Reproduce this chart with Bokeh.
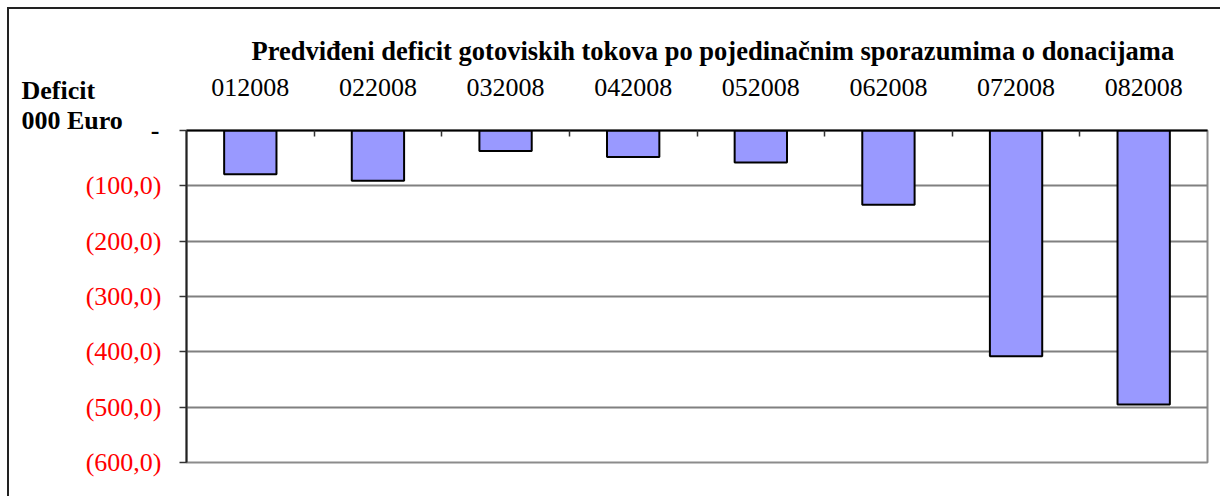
from bokeh.plotting import figure
from bokeh.models import (LinearAxis, FixedTicker, Range1d, Label, ColumnDataSource)
from bokeh.embed import file_html
from bokeh.resources import INLINE

categories = ["012008", "022008", "032008", "042008", "052008", "062008", "072008", "082008"]
deficit = [-79, -91, -37, -48, -58, -134, -408, -495]
y_ticks = [0, -100, -200, -300, -400, -500, -600]
y_labels = ["", "(100,0)", "(200,0)", "(300,0)", "(400,0)", "(500,0)", "(600,0)"]
title_text = "Predviđeni deficit gotoviskih tokova po pojedinačnim sporazumima o donacijama"

FONT = "Liberation Serif"
W, H = 1213, 489

xs = [i + 0.5 for i in range(len(categories))]
src = ColumnDataSource(dict(x=xs, top=[0] * len(deficit), bottom=deficit))

p = figure(width=W, height=H, output_backend="svg", toolbar_location=None,
           x_range=Range1d(0, len(categories)), y_range=Range1d(-600, 0),
           x_axis_location=None, y_axis_location=None,
           min_border_left=177, min_border_right=15, min_border_top=121, min_border_bottom=36)
p.title = None
p.margin = (7, 0, 0, 7)
p.styles = {"border-left": "2px solid #222", "border-top": "2px solid #222"}
p.outline_line_color = "#8c8c8c"
p.outline_line_width = 2
p.background_fill_color = "white"

p.vbar(x="x", top="top", bottom="bottom", width=0.41, source=src,
       fill_color="#9999FF", line_color="black", line_width=2)

# top category axis
xaxis = LinearAxis(ticker=FixedTicker(ticks=xs, minor_ticks=list(range(1, len(categories)))),
                   major_label_overrides={x: c for x, c in zip(xs, categories)})
xaxis.major_tick_line_color = None
xaxis.minor_tick_in = 6
xaxis.minor_tick_out = 0
xaxis.minor_tick_line_color = "#333"
xaxis.minor_tick_line_width = 1.5
xaxis.axis_line_color = "black"
xaxis.axis_line_width = 2
xaxis.major_label_text_font = FONT
xaxis.major_label_text_font_size = "26px"
xaxis.major_label_text_color = "black"
xaxis.major_label_standoff = 29
p.add_layout(xaxis, "above")

# left value axis
yaxis = LinearAxis(ticker=FixedTicker(ticks=y_ticks),
                   major_label_overrides={t: l for t, l in zip(y_ticks, y_labels)})
yaxis.major_tick_in = 0
yaxis.major_tick_out = 7
yaxis.major_tick_line_color = "#333"
yaxis.major_tick_line_width = 1.5
yaxis.axis_line_color = "#222"
yaxis.axis_line_width = 2
yaxis.major_label_text_font = FONT
yaxis.major_label_text_font_size = "26px"
yaxis.major_label_text_color = "red"
yaxis.major_label_standoff = 18
p.add_layout(yaxis, "left")

p.xgrid.visible = False
p.ygrid.ticker = FixedTicker(ticks=y_ticks)
p.ygrid.grid_line_color = "#808080"
p.ygrid.grid_line_width = 2

def txt(text, x, y, align="left", bold=True, size="26px"):
    return Label(x=x, y=y, x_units="canvas", y_units="canvas", text=text,
                 text_align=align, text_baseline="middle", text_font=FONT,
                 text_font_size=size, text_font_style="bold" if bold else "normal",
                 text_color="black")

# zero label "-" in black (side panel so it is not clipped by the frame)
p.add_layout(txt("-", 148, 119, align="right"), "left")

# unit label
p.add_layout(txt("Deficit", 10, 79), "above")
p.add_layout(txt("000 Euro", 10, 109), "above")

# chart title
p.add_layout(txt(title_text, 240, 39, size="26.5px"), "below")

open("out.html", "w").write(file_html(p, INLINE))
